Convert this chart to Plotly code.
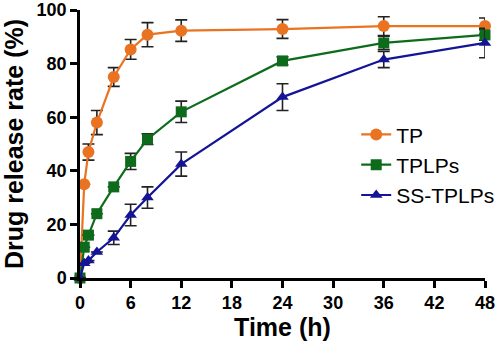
import plotly.graph_objects as go

# Tiempos de muestreo (h)
tiempo = [0, 0.5, 1, 2, 4, 6, 8, 12, 24, 36, 48]

# Liberacion acumulada (%) y desviacion
tp = [0, 35, 47, 58, 75, 85.3, 90.8, 92.3, 92.9, 94, 94]
tp_err = [0, 0, 3, 4.5, 3.5, 3.7, 4.5, 4, 3.5, 3.5, 3]

tplps = [0, 11.5, 16, 24, 34, 43.5, 51.8, 62, 81, 87.7, 90.7]
tplps_err = [0, 0, 0, 0, 0, 3, 2, 4, 1.5, 2.5, 2]

ss_tplps = [0, 5.5, 6.5, 9.7, 15, 23.5, 30, 42.5, 67.5, 81.5, 87.7]
ss_tplps_err = [0, 0, 0, 0, 2.5, 4, 4, 4.5, 5, 3, 5.5]

series = [
    ("TP", tp, tp_err, "#EA7322", "circle", 12),
    ("TPLPs", tplps, tplps_err, "#0E6B1C", "square", 11),
    ("SS-TPLPs", ss_tplps, ss_tplps_err, "#141496", "triangle-up", 11),
]

fig = go.Figure()
for nombre, y, err, color, simbolo, tam in series:
    fig.add_trace(go.Scatter(
        x=tiempo, y=y, name=nombre, mode="lines+markers",
        line=dict(color=color, width=2.2),
        marker=dict(symbol=simbolo, size=tam, color=color),
        error_y=dict(type="data", array=err, visible=True,
                     color="#222222", thickness=1.6, width=6),
        cliponaxis=False,
    ))

fig.update_layout(
    width=498, height=349,
    # autoexpand=False: la leyenda sobresale del area y no debe empujar el margen
    margin=dict(l=80, r=13, t=10, b=71, autoexpand=False),
    paper_bgcolor="white",
    plot_bgcolor="white",
    font=dict(family="Arial", color="black"),
    legend=dict(x=0.682, y=0.611, xanchor="left", yanchor="top",
                font=dict(size=21, family="Arial"),
                bgcolor="rgba(0,0,0,0)", itemwidth=30),
    xaxis=dict(
        range=[0, 48], tickvals=[0, 6, 12, 18, 24, 30, 36, 42, 48],
        automargin=False, ticklabeloverflow="allow",
        showgrid=False, zeroline=False,
        showline=True, linecolor="black", linewidth=2.5,
        ticks="outside", ticklen=7, tickwidth=2.5, tickcolor="black",
        tickfont=dict(size=18, family="Arial", weight="bold"),
        title=dict(text="<b>Time (h)</b>", font=dict(size=25), standoff=4),
    ),
    yaxis=dict(
        range=[0, 100], tickvals=[0, 20, 40, 60, 80, 100],
        automargin=False, ticklabeloverflow="allow",
        showgrid=False, zeroline=False,
        showline=True, linecolor="black", linewidth=2.5,
        ticks="outside", ticklen=7, tickwidth=2.5, tickcolor="black",
        tickfont=dict(size=18, family="Arial", weight="bold"),
        title=dict(text="<b>Drug release rate (%)</b>", font=dict(size=25), standoff=10),
    ),
)

# quitar el margen del body para que la figura empiece en (0,0)
fig.write_html(
    "out.html",
    config={"displayModeBar": False, "responsive": False},
    post_script="document.body.style.margin='0';document.body.style.overflow='hidden';",
)
